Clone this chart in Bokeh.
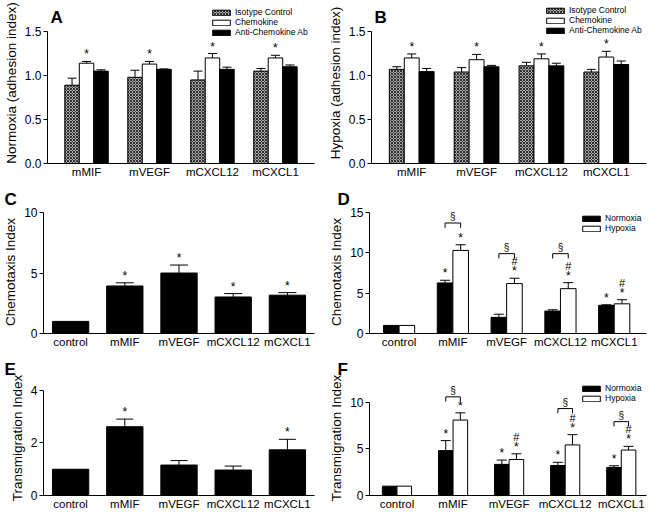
from bokeh.plotting import figure
from bokeh.layouts import column, row
from bokeh.models import (ColumnDataSource, FixedTicker, Range1d, Legend, Label,
                          LegendItem, Whisker, TeeHead, PrintfTickFormatter)
from bokeh.embed import file_html
from bokeh.resources import INLINE
from bokeh.core.properties import value

FONT = "Liberation Sans"

# ---------------- data ----------------
ab_groups = ["mMIF", "mVEGF", "mCXCL12", "mCXCL1"]
ab_series = ["Isotype Control", "Chemokine", "Anti-Chemokine Ab"]

a_iso = [0.89, 0.98, 0.95, 1.05]
a_iso_err = [0.08, 0.08, 0.10, 0.03]
a_chem = [1.14, 1.13, 1.20, 1.20]
a_chem_err = [0.02, 0.03, 0.05, 0.03]
a_anti = [1.05, 1.07, 1.07, 1.10]
a_anti_err = [0.015, 0.005, 0.025, 0.02]
a_chem_star = [1, 1, 1, 1]

b_iso = [1.07, 1.04, 1.11, 1.04]
b_iso_err = [0.03, 0.05, 0.04, 0.03]
b_chem = [1.20, 1.18, 1.19, 1.21]
b_chem_err = [0.045, 0.06, 0.055, 0.065]
b_anti = [1.045, 1.10, 1.11, 1.125]
b_anti_err = [0.035, 0.015, 0.03, 0.04]
b_chem_star = [1, 1, 1, 1]

ce_groups = ["control", "mMIF", "mVEGF", "mCXCL12", "mCXCL1"]
c_vals = [1.0, 3.93, 5.0, 3.02, 3.17]
c_err = [0.0, 0.26, 0.66, 0.28, 0.21]
c_star = [0, 1, 1, 1, 1]

df_series = ["Normoxia", "Hypoxia"]
d_norm = [1.0, 6.27, 2.0, 2.78, 3.49]
d_norm_err = [0.0, 0.33, 0.39, 0.16, 0.07]
d_hyp = [1.0, 10.3, 6.19, 5.56, 3.68]
d_hyp_err = [0.0, 0.70, 0.66, 0.74, 0.51]
d_norm_star = [0, 1, 0, 0, 1]
d_hyp_star = [0, 1, 1, 1, 1]
d_hyp_hash = [0, 0, 1, 1, 1]
d_bracket = [None, 13.7, 9.9, 9.9, None]

e_vals = [1.0, 2.62, 1.16, 0.97, 1.74]
e_err = [0.0, 0.29, 0.17, 0.15, 0.40]
e_star = [0, 1, 0, 0, 1]

f_norm = [1.0, 4.8, 3.33, 3.21, 3.0]
f_norm_err = [0.0, 1.07, 0.46, 0.34, 0.18]
f_hyp = [1.0, 8.07, 3.85, 5.41, 4.86]
f_hyp_err = [0.0, 0.77, 0.61, 1.10, 0.40]
f_norm_star = [0, 1, 1, 1, 1]
f_hyp_star = [0, 1, 1, 1, 1]
f_hyp_hash = [0, 0, 1, 1, 1]
f_bracket = [None, 10.55, None, 9.3, 7.9]

panel_letters = ["A", "B", "C", "D", "E", "F"]


# ---------------- helpers ----------------
def make_fig(w, h, xr, yr, bl, br, bt, bb, yticks, ylabel, cats, fmt=None):
    p = figure(width=w, height=h, x_range=Range1d(*xr), y_range=Range1d(*yr),
               output_backend="svg", toolbar_location=None,
               min_border_left=bl, min_border_right=br, min_border_top=bt,
               min_border_bottom=bb)
    p.xgrid.visible = False
    p.ygrid.visible = False
    p.outline_line_color = None
    p.yaxis.ticker = FixedTicker(ticks=yticks)
    p.yaxis.bounds = (yticks[0], yticks[-1])
    if fmt:
        p.yaxis.formatter = PrintfTickFormatter(format=fmt)
    p.yaxis.axis_label = ylabel
    p.yaxis.axis_label_text_font = FONT
    p.yaxis.axis_label_text_font_size = "13.5px"
    p.yaxis.axis_label_text_font_style = "normal"
    p.yaxis.axis_label_text_color = "black"
    p.yaxis.axis_label_standoff = 3
    p.yaxis.major_tick_out = 4
    p.yaxis.major_tick_in = 0
    p.yaxis.major_label_standoff = 2
    p.yaxis.major_label_text_font_size = "12px"
    p.xaxis.axis_label = None
    p.xaxis.ticker = FixedTicker(ticks=list(range(len(cats))))
    p.xaxis.major_label_overrides = {i: c for i, c in enumerate(cats)}
    p.xaxis.major_tick_out = 0
    p.xaxis.major_tick_in = 0
    p.xaxis.major_label_standoff = 2
    p.xaxis.axis_label_standoff = 0
    p.xaxis.major_label_text_font_size = "11.5px"
    for ax in (p.xaxis, p.yaxis):
        ax.minor_tick_line_color = None
        ax.minor_tick_out = 0
        ax.minor_tick_in = 0
        ax.major_label_text_font = FONT
        ax.major_label_text_color = "black"
        ax.axis_line_color = "black"
        ax.major_tick_line_color = "black"
    return p


def bars(p, vals, errs, off, width, cap, **style):
    xs = [i + off for i in range(len(vals))]
    r = p.vbar(x=xs, top=vals, bottom=0, width=width, line_color="black",
               line_width=1, **style)
    keep = [i for i, e in enumerate(errs) if e > 0]
    src = ColumnDataSource(dict(x=[xs[i] for i in keep],
                                lo=[vals[i] for i in keep],
                                hi=[vals[i] + errs[i] for i in keep]))
    wk = Whisker(base="x", lower="lo", upper="hi", source=src, lower_head=None,
                 upper_head=TeeHead(size=cap, line_color="black", line_width=1),
                 line_color="black", line_width=1)
    p.add_layout(wk)
    return r, xs


def marks(p, xs, vals, errs, flags, sym, yoff, size="12px"):
    sel = [i for i, f in enumerate(flags) if f]
    if not sel:
        return
    p.text(x=[xs[i] for i in sel], y=[vals[i] + errs[i] for i in sel],
           text=[sym] * len(sel), text_align="center", text_baseline="bottom",
           y_offset=yoff, text_font=value(FONT), text_font_size=size,
           text_color="black")


def brackets(p, xn, xh, levels, tick):
    sel = [i for i, v in enumerate(levels) if v is not None]
    x0 = [xn[i] for i in sel]
    x1 = [xh[i] for i in sel]
    y = [levels[i] for i in sel]
    p.segment(x0=x0, y0=y, x1=x1, y1=y, line_color="black", line_width=1)
    p.segment(x0=x0, y0=y, x1=x0, y1=[v - tick for v in y], line_color="black", line_width=1)
    p.segment(x0=x1, y0=y, x1=x1, y1=[v - tick for v in y], line_color="black", line_width=1)
    p.text(x=[(a + b) / 2 for a, b in zip(x0, x1)], y=y, text=["§"] * len(sel),
           text_align="center", text_baseline="bottom", y_offset=-1,
           text_font=value(FONT), text_font_size="10px", text_color="black")


def letter_label(p, txt, x, y):
    # panel letter drawn inside the plot area (top-left)
    p.add_layout(Label(x=x, y=y, x_units="screen", y_units="screen", text=txt,
                       text_font=FONT, text_font_style="bold", text_font_size="17px",
                       text_baseline="alphabetic", text_color="black"))


def letter_title(p, txt, offset):
    # panel letter as the figure title, shifted left over the y-axis area
    p.title.text = txt
    p.title.align = "left"
    p.title.offset = offset
    p.title.standoff = 3
    p.title.vertical_align = "bottom"
    p.title.text_font = FONT
    p.title.text_font_size = "17px"
    p.title.text_font_style = "bold"
    p.title.text_color = "black"


def legend(p, items, loc, fs, lw, lh, sp, margin=0):
    lg = Legend(items=[LegendItem(label=l, renderers=[r]) for l, r in items],
                location=loc, glyph_width=22, glyph_height=7, label_height=lh,
                label_width=lw, spacing=sp, padding=0, margin=margin, label_standoff=3,
                label_text_font=FONT, label_text_font_size=fs,
                label_text_color="black", background_fill_alpha=0,
                border_line_alpha=0)
    p.add_layout(lg)


HATCH = dict(fill_color="#a8a8a8", hatch_pattern="diagonal_cross",
             hatch_color="#303030", hatch_scale=3, hatch_weight=1)
BLACK = dict(fill_color="black")
WHITE = dict(fill_color="white")


def adhesion(p, iso, iso_e, chem, chem_e, anti, anti_e, star, margin):
    bw = 0.23
    r1, _ = bars(p, iso, iso_e, -bw, bw, 9, **HATCH)
    r2, x2 = bars(p, chem, chem_e, 0, bw, 9, **WHITE)
    r3, _ = bars(p, anti, anti_e, bw, bw, 9, **BLACK)
    marks(p, x2, chem, chem_e, star, "*", 0)
    legend(p, list(zip(ab_series, [r1, r2, r3])), "top_right", "8.5px", 74, 8, -1, margin)


# ---------------- panel A ----------------
pA = make_fig(324, 184, (-0.62, 3.62), (0, 1.83), 43, 10, 2, 21,
              [0, 0.5, 1.0, 1.5], "Normoxia (adhesion index)", ab_groups, "%.1f")
adhesion(pA, a_iso, a_iso_err, a_chem, a_chem_err, a_anti, a_anti_err, a_chem_star, 5)
letter_label(pA, panel_letters[0], 3, 146)

# ---------------- panel B ----------------
pB = make_fig(324, 184, (-0.62, 3.62), (0, 1.83), 45, 2, 2, 21,
              [0, 0.5, 1.0, 1.5], "Hypoxia (adhesion index)", ab_groups, "%.1f")
adhesion(pB, b_iso, b_iso_err, b_chem, b_chem_err, b_anti, b_anti_err, b_chem_star, 3)
letter_label(pB, panel_letters[1], 3, 146)

# ---------------- panel C ----------------
pC = make_fig(324, 170, (-0.5, 4.5), (0, 10.17), 43, 10, 26, 21,
              [0, 5, 10], "Chemotaxis Index", ce_groups)
_, xc = bars(pC, c_vals, c_err, 0, 0.67, 18, **BLACK)
marks(pC, xc, c_vals, c_err, c_star, "*", 0)
letter_title(pC, panel_letters[2], -39)

# ---------------- panel D ----------------
pD = make_fig(324, 170, (-0.55, 4.6), (0, 15.25), 45, 2, 26, 21,
              [0, 5, 10, 15], "Chemotaxis Index", ce_groups)
bw = 0.29
rn, xn = bars(pD, d_norm, d_norm_err, -bw / 2, bw, 10, **BLACK)
rh, xh = bars(pD, d_hyp, d_hyp_err, bw / 2, bw, 10, **WHITE)
marks(pD, xn, d_norm, d_norm_err, d_norm_star, "*", 0)
marks(pD, xh, d_hyp, d_hyp_err, d_hyp_star, "*", 0)
marks(pD, xh, d_hyp, d_hyp_err, d_hyp_hash, "#", -11, "11px")
brackets(pD, xn, xh, d_bracket, 0.6)
legend(pD, list(zip(df_series, [rn, rh])), "top_right", "8.5px", 38, 10, 0, 3)
letter_title(pD, panel_letters[3], -32)

# ---------------- panel E ----------------
pE = make_fig(324, 162, (-0.5, 4.5), (0, 4.38), 43, 10, 26, 21,
              [0, 2, 4], "Transmigration Index", ce_groups)
_, xe = bars(pE, e_vals, e_err, 0, 0.67, 17, **BLACK)
marks(pE, xe, e_vals, e_err, e_star, "*", 0)
letter_title(pE, panel_letters[4], -39)

# ---------------- panel F ----------------
pF = make_fig(324, 162, (-0.49, 4.45), (0, 12.3), 45, 2, 26, 21,
              [0, 5, 10], "Transmigration Index", ce_groups)
bw = 0.26
rn, xn = bars(pF, f_norm, f_norm_err, -bw / 2, bw, 10, **BLACK)
rh, xh = bars(pF, f_hyp, f_hyp_err, bw / 2, bw, 10, **WHITE)
marks(pF, xn, f_norm, f_norm_err, f_norm_star, "*", 0)
marks(pF, xh, f_hyp, f_hyp_err, f_hyp_star, "*", 0)
marks(pF, xh, f_hyp, f_hyp_err, f_hyp_hash, "#", -11, "11px")
brackets(pF, xn, xh, f_bracket, 0.5)
legend(pF, list(zip(df_series, [rn, rh])), "top_right", "8.5px", 38, 10, 0, 3)
letter_title(pF, panel_letters[5], -32)

layout = column(row(pA, pB), row(pC, pD), row(pE, pF))
open("out.html", "w").write(file_html(layout, INLINE))
